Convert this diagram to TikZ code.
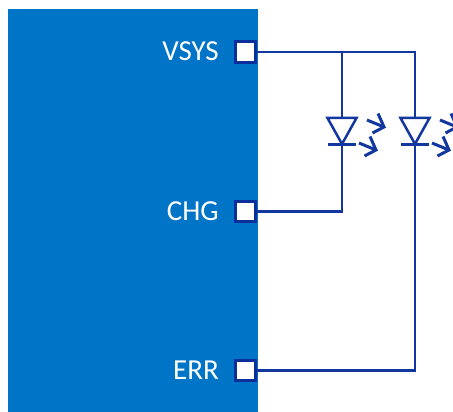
\documentclass[tikz,border=0pt]{standalone}
\usepackage{fontspec}
\setmainfont{Carlito}
\definecolor{chipblue}{HTML}{0074C6}
\definecolor{wireblue}{HTML}{1238A0}
\definecolor{pinblue}{HTML}{0A2F9A}
\begin{document}
\begin{tikzpicture}[x=1pt,y=-1pt,
  pin/.style={draw=pinblue,line width=2.8pt,fill=white,minimum size=20.5pt,inner sep=0pt},
  pinlabel/.style={text=white,font=\fontsize{29}{32}\selectfont,anchor=base east,inner sep=0pt},
  wire/.style={draw=wireblue,line width=2.5pt},
  ledarrow/.style={draw=wireblue,line width=3pt,line join=miter,line cap=butt}]
\useasboundingbox (0,0) rectangle (453,412);
\clip (0,0) rectangle (453,412);
\fill[chipblue] (8,9) rectangle (258,412);
% pins
\node[pin] (vsys) at (245.5,52) {};
\node[pin] (chg) at (245.5,211.5) {};
\node[pin] (err) at (245.5,370.5) {};
\node[pinlabel] (lv) at (219,60.5) {VSYS};
\node[pinlabel] (lc) at (219,220) {CHG};
\node[pinlabel] (le) at (219,379.5) {ERR};
% junction coordinates
\coordinate (j1) at (342,52);
\coordinate (j2) at (415,52);
\coordinate (a1) at (342,118);
\coordinate (k1) at (342,144.5);
\coordinate (a2) at (415,118);
\coordinate (k2) at (415,144.5);
% wires
\draw[wire] (vsys.east) -- (j2) -- (a2);
\draw[wire] (j1) -- (a1);
\draw[wire] (chg.east) -| (k1);
\draw[wire] (err.east) -| (k2);
% LEDs
\foreach \dx in {0,73}{
  \begin{scope}[shift={(\dx,0)}]
    \draw[wire,line join=miter] (327.5,118) -- (356.5,118) -- (342,144) -- cycle;
    \draw[wire] (328,144.5) -- (356,144.5);
    \foreach \dy/\ex in {0/0,23/-8}{
      \begin{scope}[shift={(\ex,\dy)}]
        \draw[ledarrow] (367,120) -- (384,127);
        \draw[ledarrow] (378,113.5) -- (384,127) -- (372.5,133);
      \end{scope}
    }
  \end{scope}
}
\end{tikzpicture}
\end{document}
